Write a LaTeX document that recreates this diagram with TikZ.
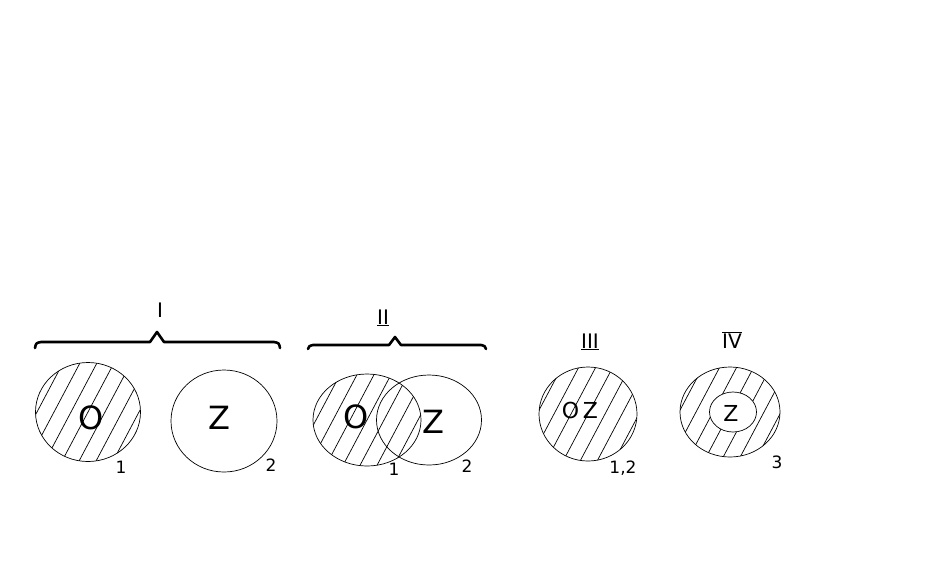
\documentclass[tikz,border=0pt]{standalone}
\usepackage{fontspec}
\setmainfont{DejaVu Sans}
\usetikzlibrary{shapes.geometric,calc}
\begin{document}
\begin{tikzpicture}[x=1pt,y=-1pt,
  ring/.style={draw,ellipse,inner sep=0pt,line width=0.7pt},
  hatch/.style={path picture={\foreach \k in {-8,...,8}{\draw[line width=0.7pt] ($(path picture bounding box.center)+(\k*17,0)+(-45,85)$) -- ++(90,-170);}}},
  brace/.style={line width=2.6pt,line cap=round,line join=round},
  big/.style={font=\fontsize{32}{32}\selectfont,inner sep=0pt},
  mid/.style={font=\fontsize{22}{22}\selectfont,inner sep=0pt},
  num/.style={font=\fontsize{17}{17}\selectfont,inner sep=0pt},
  lab/.style={font=\fontsize{20}{20}\selectfont,inner sep=0pt}]
\fill[white] (0,0) rectangle (936,582);
\useasboundingbox (0,0) rectangle (936,582);
% Panel I
\node[ring,hatch,minimum width=105,minimum height=99] (a1) at (88,412) {};
\node[ring,minimum width=106,minimum height=102] (a2) at (224,421) {};
\node[big] (ta1) at (91,418) {O};
\node[big] (ta2) at (219,418) {Z};
\node[num] (na1) at (121,467) {1};
\node[num] (na2) at (271,465) {2};
\coordinate (bIl) at (35,348);
\coordinate (bIr) at (280,348);
\draw[brace] (bIl) .. controls (36,343) .. (41,342) -- (150,342) -- (157,332) -- (164,342) -- (274,342) .. controls (279,343) .. (bIr);
\node[lab] (lI) at (160,310) {I};
% Panel II
\node[ring,hatch,minimum width=108,minimum height=92] (b1) at (367,420) {};
\node[ring,minimum width=105,minimum height=90] (b2) at (429,420) {};
\node[big] (tb1) at (356,417) {O};
\node[big] (tb2) at (433,422) {Z};
\node[num] (nb1) at (394,469) {1};
\node[num] (nb2) at (467,466) {2};
\coordinate (bIIl) at (308,349);
\coordinate (bIIr) at (486,349);
\draw[brace] (bIIl) .. controls (309,346) .. (313,345) -- (389,345) -- (395,337) -- (401,345) -- (481,345) .. controls (485,346) .. (bIIr);
\node[lab] (lII) at (383,318) {\underline{II}};
% Panel III
\node[ring,hatch,minimum width=98,minimum height=94] (c1) at (588,414) {};
\node[mid] (tc) at (580,410) {O\,Z};
\node[num] (nc) at (623,468) {1,2};
\node[lab] (lIII) at (590,342) {\underline{III}};
% Panel IV
\node[ring,hatch,minimum width=100,minimum height=90] (d1) at (730,412) {};
\node[ring,fill=white,minimum width=47,minimum height=40] (d2) at (733,412) {};
\node[mid] (td) at (731,413) {Z};
\node[num] (nd) at (777,462) {3};
\node[lab] (lIV) at (732,340) {$\overline{\mbox{IV}}$};
\end{tikzpicture}
\end{document}
